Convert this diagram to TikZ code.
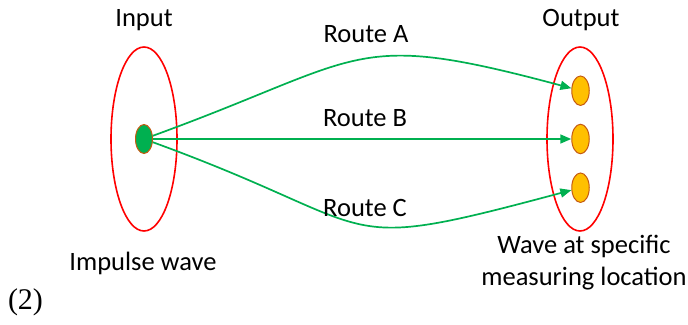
\documentclass[tikz,border=0pt]{standalone}
\usepackage{fontspec}
\setmainfont{Carlito}
\newfontfamily\timesfont{Liberation Serif}
\usetikzlibrary{shapes.geometric,arrows.meta}
\definecolor{routegreen}{HTML}{00B050}
\definecolor{dotorange}{HTML}{FFC000}
\definecolor{dotrim}{HTML}{C55A11}

\begin{document}
\begin{tikzpicture}[x=1pt,y=-1pt,
    lbl/.style={inner sep=0pt,anchor=base,font=\fontsize{26.5}{32.4}\selectfont},
    zone/.style={draw=red,ellipse,line width=1.6pt,minimum width=66pt,minimum height=184pt,inner sep=0pt},
    indot/.style={draw=dotrim,fill=routegreen,ellipse,line width=1pt,minimum width=17pt,minimum height=29pt,inner sep=0pt},
    outdot/.style={draw=dotrim,fill=dotorange,ellipse,line width=1pt,minimum width=17.5pt,minimum height=29.5pt,inner sep=0pt},
    route/.style={draw=routegreen,line width=1.7pt,-{Triangle[length=11pt,width=9pt]}}]
  % Fix the size of the page
  \useasboundingbox (0,0) rectangle (688,324);

  % Draw the two red ellipses
  \node[zone] (inzone) at (144,139) {};
  \node[zone] (outzone) at (580,139) {};

  % Add the text over and under the ellipses
  \node[lbl] (input) at (144,26) {Input};
  \node[lbl] (output) at (581,26) {Output};
  \node[lbl] (impulse) at (143,270.7) {Impulse wave};
  \node[lbl,align=center] (measure) at (584,285.7) {Wave at specific\\measuring location};

  % Draw the green source and the orange receivers
  \node[indot] (src) at (144,139) {};
  \foreach \n/\y in {dA/90.7,dB/139,dC/187.7}
    \node[outdot] (\n) at (580.5,\y) {};

  % Draw the three routes
  \draw[route] (src) to[out=20,in=165,looseness=1.4] (dA);
  \draw[route] (src) -- (dB);
  \draw[route] (src) to[out=-20,in=195,looseness=1.55] (dC);

  % Add the route names
  \node[lbl] (routeA) at (366,42.3) {Route A};
  \node[lbl] (routeB) at (365,126.7) {Route B};
  \node[lbl] (routeC) at (365,216.7) {Route C};

  % Add the number of the panel
  \node[lbl,font=\timesfont\fontsize{30}{34}\selectfont] (panel) at (25.5,309) {(2)};
\end{tikzpicture}
\end{document}
